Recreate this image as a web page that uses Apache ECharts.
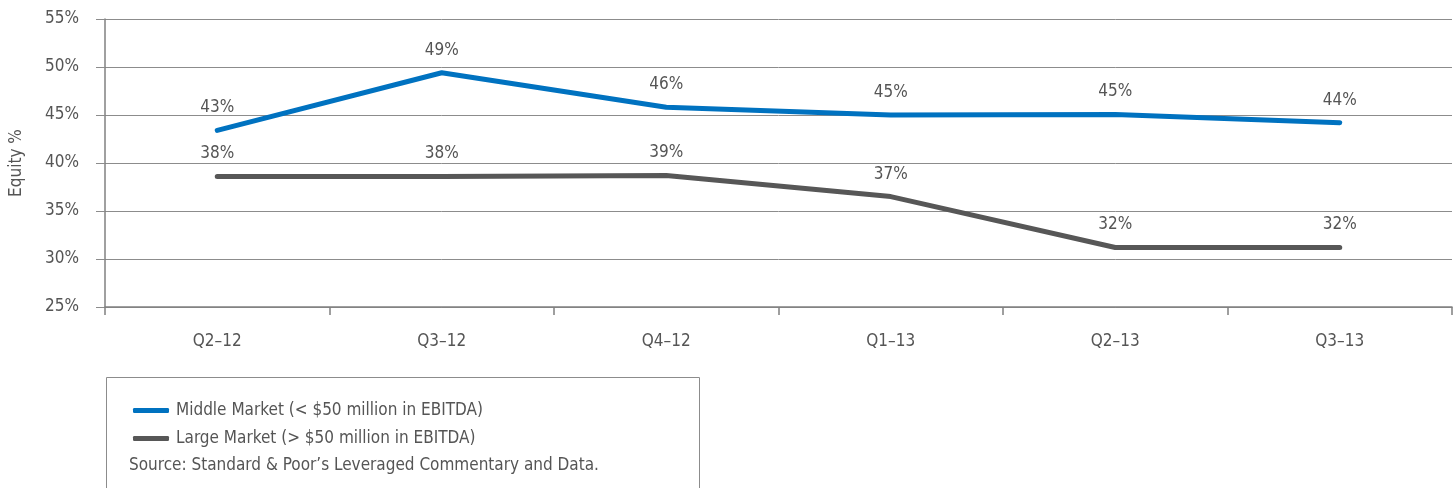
<!DOCTYPE html>
<html>
<head>
<meta charset="utf-8">
<script src="https://cdn.jsdelivr.net/npm/echarts@6/dist/echarts.min.js"></script>
<style>
    html, body { margin: 0; padding: 0; background: #fff; }
    #equity { width: 1453px; height: 488px; }
</style>
</head>
<body>
<div id="equity"></div>
<script>
    var quarters = ['Q2–12', 'Q3–12', 'Q4–12', 'Q1–13', 'Q2–13', 'Q3–13'];
    var middleMarket = [43.4, 49.4, 45.8, 45.0, 45.05, 44.2];
    var largeMarket = [38.6, 38.6, 38.7, 36.5, 31.2, 31.2];
    var middleLabels = ['43%', '49%', '46%', '45%', '45%', '44%'];
    var largeLabels = ['38%', '38%', '39%', '37%', '32%', '32%'];
    var seriesNames = ['Middle Market (< $50 million in EBITDA)', 'Large Market (> $50 million in EBITDA)'];
    var sourceText = 'Source: Standard & Poor’s Leveraged Commentary and Data.';

    var font = '"Liberation Sans Narrow", "DejaVu Sans Condensed", sans-serif';
    var textColor = '#555555';

    function lineSeries(name, data, labels, color) {
        return {
            name: name,
            type: 'line',
            data: data,
            symbol: 'circle',
            symbolSize: 0,
            lineStyle: { color: color, width: 5, cap: 'round', join: 'round' },
            itemStyle: { color: color },
            label: {
                show: true,
                position: 'top',
                distance: 14,
                fontFamily: font,
                fontSize: 17,
                color: textColor,
                formatter: function (p) { return labels[p.dataIndex]; }
            },
            emphasis: { disabled: true }
        };
    }

    var chart = echarts.init(document.getElementById('equity'));
    chart.setOption({
        animation: false,
        textStyle: { fontFamily: font },
        grid: { left: 105, right: 1, top: 19, bottom: 181, outerBoundsMode: 'none' },
        legend: {
            orient: 'vertical',
            left: 128,
            top: 397,
            itemWidth: 36,
            itemHeight: 5,
            itemGap: 11,
            icon: 'roundRect',
            textStyle: { fontFamily: font, fontSize: 17, color: textColor, padding: [0, 0, 0, 2] },
            data: seriesNames
        },
        xAxis: {
            type: 'category',
            data: quarters,
            boundaryGap: true,
            axisLine: { lineStyle: { color: '#808080', width: 1.5 } },
            axisTick: { show: true, length: 8, lineStyle: { color: '#808080', width: 1.5 } },
            axisLabel: { fontFamily: font, fontSize: 17, color: textColor, margin: 26 }
        },
        yAxis: {
            type: 'value',
            min: 25,
            max: 55,
            interval: 5,
            name: 'Equity %',
            nameLocation: 'middle',
            nameGap: 80,
            nameTextStyle: { fontFamily: font, fontSize: 17, color: textColor },
            axisLine: { show: true, lineStyle: { color: '#808080', width: 1.5 } },
            axisTick: { show: true, length: 9, lineStyle: { color: '#8c8c8c' } },
            splitLine: { lineStyle: { color: '#8c8c8c', width: 1 } },
            axisLabel: { fontFamily: font, fontSize: 17, color: textColor, margin: 26, formatter: '{value}%' }
        },
        graphic: [
            {
                type: 'rect',
                left: 104,
                top: 375,
                shape: { width: 593, height: 130 },
                style: { fill: 'none', stroke: '#8c8c8c', lineWidth: 1 },
                silent: true
            },
            {
                type: 'text',
                left: 129,
                top: 457,
                style: { text: sourceText, font: '17px ' + font, fill: textColor }
            }
        ],
        series: [
            lineSeries(seriesNames[0], middleMarket, middleLabels, '#0072c0'),
            lineSeries(seriesNames[1], largeMarket, largeLabels, '#575757')
        ]
    });
</script>
</body>
</html>
